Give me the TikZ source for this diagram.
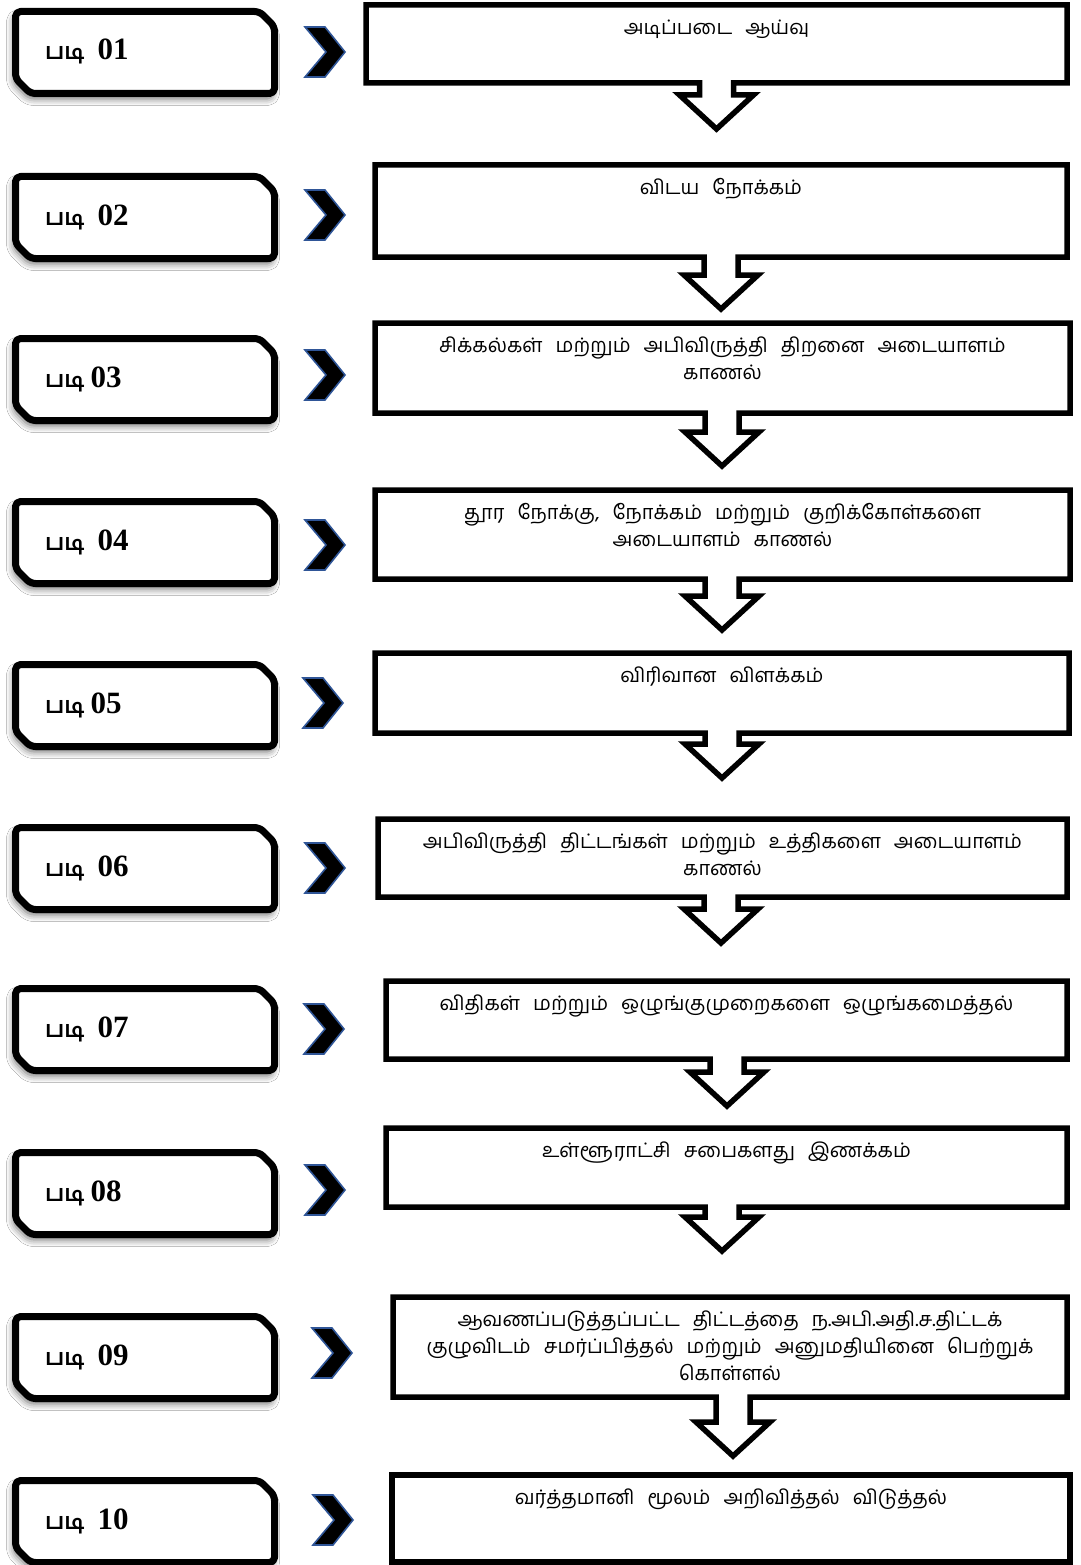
\documentclass[tikz,border=0pt]{standalone}
\usepackage{fontspec}
\setmainfont{Liberation Serif}
\newfontfamily\tamiltext[Script=Tamil]{Hind Madurai}
\newfontfamily\tamillabel[Script=Tamil]{Hind Madurai}
\usetikzlibrary{shadows.blur}
\definecolor{chevblue}{HTML}{2F5597}
\newcommand\calltextfont{\tamiltext\fontsize{20}{27}\selectfont\spaceskip=13pt plus 2pt\relax}
\tikzset{
  stepframe/.style={draw=black, line width=7pt, fill=white, rounded corners=5pt, line join=round,
    blur shadow={shadow xshift=-2pt, shadow yshift=-5pt, shadow blur radius=7pt, shadow opacity=60}},
  callframe/.style={draw=black, line width=5.5pt, fill=white, line join=miter, miter limit=10},
  chevshape/.style={fill=black, draw=chevblue, line width=1.6pt, line join=miter},
  calltext/.style={anchor=north, inner sep=0pt, align=center, font=\calltextfont},
  steplabel/.style={anchor=base west, inner sep=0pt},
}
\newcommand\StepLbl[2]{{\tamillabel\bfseries\fontsize{23}{23}\selectfont படி}\hspace{#1}{\bfseries\fontsize{31}{31}\selectfont #2}}
\newcommand\StepRow[3]{%
  \path[stepframe] (140,#1+3.5) -- (259.5,#1+3.5) -- (274.5,#1+18.5) -- (274.5,#1+85.5)
     -- (30.5,#1+85.5) -- (15.5,#1+70.5) -- (15.5,#1+3.5) -- cycle;
  \node[steplabel] (#2) at (45,#1+52) {#3};
}
\newcommand\ChevAt[3]{%
  \path[chevshape] (#1,#2) -- (#1+20,#2) -- (#1+40,#2+25) -- (#1+20,#2+50) -- (#1,#2+50) -- (#1+21,#2+25) -- cycle;
  \coordinate (#3) at (#1+20,#2+25);
}
\newcommand\CallBox[8]{%
  \path[callframe] (#1,#2) -- (#3,#2) -- (#3,#4) -- (#5+17,#4) -- (#5+17,#6-34) -- (#5+37,#6-34)
     -- (#5,#6) -- (#5-37,#6-34) -- (#5-17,#6-34) -- (#5-17,#4) -- (#1,#4) -- cycle;
  \node[calltext] (#7) at ({(#1+#3)/2},#2+9) {\rule{0pt}{20pt}#8};
}
\begin{document}
\begin{tikzpicture}[x=1pt,y=-1pt]
\useasboundingbox (0,0) rectangle (1080,1565);
\fill[white] (0,0) rectangle (1080,1565);

% step boxes
\StepRow{8}{s1}{\StepLbl{13pt}{01}}
\StepRow{173}{s2}{\StepLbl{13pt}{02}}
\StepRow{335}{s3}{\StepLbl{6pt}{03}}
\StepRow{498}{s4}{\StepLbl{13pt}{04}}
\StepRow{661}{s5}{\StepLbl{6pt}{05}}
\StepRow{824}{s6}{\StepLbl{13pt}{06}}
\StepRow{985}{s7}{\StepLbl{13pt}{07}}
\StepRow{1149}{s8}{\StepLbl{6pt}{08}}
\StepRow{1313}{s9}{\StepLbl{13pt}{09}}
\StepRow{1477}{s10}{\StepLbl{13pt}{10}}

% chevrons
\ChevAt{305}{27}{h1}
\ChevAt{305}{190}{h2}
\ChevAt{305}{350}{h3}
\ChevAt{305}{520}{h4}
\ChevAt{303}{678}{h5}
\ChevAt{305}{843}{h6}
\ChevAt{304}{1004}{h7}
\ChevAt{305}{1165}{h8}
\ChevAt{312}{1328}{h9}
\ChevAt{313}{1495}{h10}

% callout boxes
\path[callframe] (392,1475) rectangle (1070,1562);
\node[calltext] (c10) at (731,1484) {\rule{0pt}{20pt}வர்த்தமானி மூலம் அறிவித்தல் விடுத்தல்};
\CallBox{393}{1297}{1067}{1397}{733}{1456}{c9}{ஆவணப்படுத்தப்பட்ட திட்டத்தை ந.அபி.அதி.ச.திட்டக்\\குழுவிடம் சமர்ப்பித்தல் மற்றும் அனுமதியினை பெற்றுக்\\கொள்ளல்}
\CallBox{386}{1128}{1067}{1207}{722}{1251}{c8}{உள்ளூராட்சி சபைகளது இணக்கம்}
\CallBox{386}{981}{1067}{1059}{727}{1106}{c7}{விதிகள் மற்றும் ஒழுங்குமுறைகளை ஒழுங்கமைத்தல்}
\CallBox{378}{819}{1067}{897}{721}{943}{c6}{அபிவிருத்தி திட்டங்கள் மற்றும் உத்திகளை அடையாளம்\\காணல்}
\CallBox{375}{653}{1069}{733}{722}{778}{c5}{விரிவான விளக்கம்}
\CallBox{375}{490}{1070}{579}{722}{630}{c4}{தூர நோக்கு, நோக்கம் மற்றும் குறிக்கோள்களை\\அடையாளம் காணல்}
\CallBox{375}{323}{1070}{413}{722}{466}{c3}{சிக்கல்கள் மற்றும் அபிவிருத்தி திறனை அடையாளம்\\காணல்}
\CallBox{375}{165}{1067}{257}{721}{309}{c2}{விடய நோக்கம்}
\CallBox{366}{5}{1067}{83}{716.5}{129}{c1}{அடிப்படை ஆய்வு}
\end{tikzpicture}
\end{document}
